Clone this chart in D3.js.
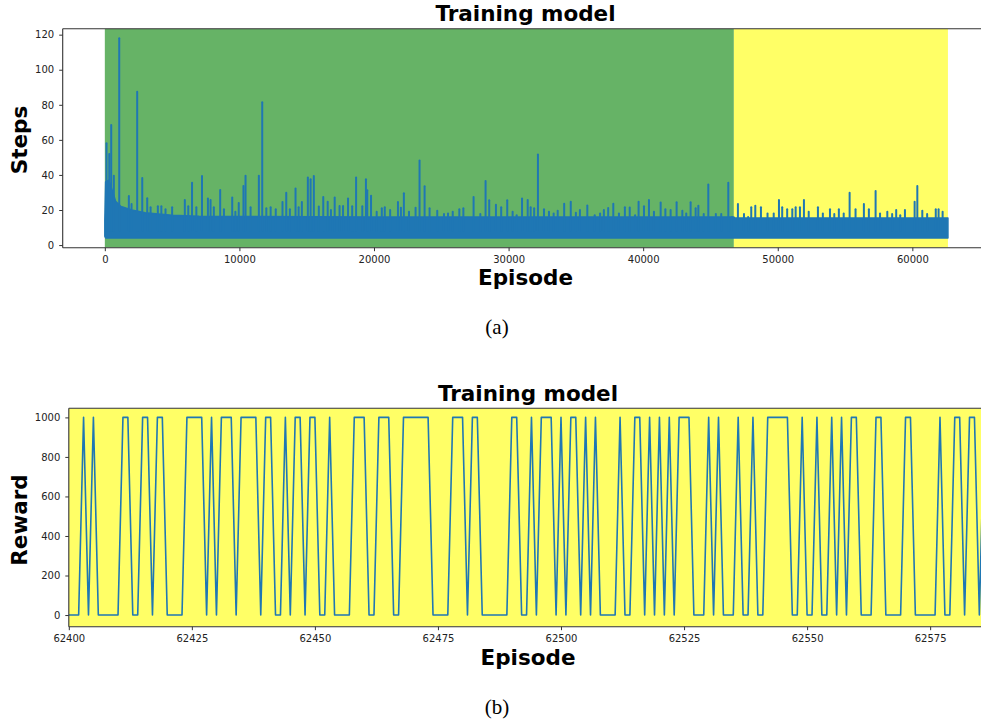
<!DOCTYPE html>
<html>
<head>
<meta charset="utf-8">
<script src="https://cdn.jsdelivr.net/npm/d3@7"></script>
<style>
  body { margin: 0; background: #fff; }
  svg { display: block; }
  text { font-family: "DejaVu Sans", sans-serif; }
</style>
</head>
<body>
<svg id="fig" width="981" height="724"></svg>
<script>
// ---------- Panel (a): steps per episode over the whole training run ----------
const phaseStarts = [0, 46740];
const phaseEnds = [46740, 62645];
const phaseColors = ["#66b366", "#ffff66"];

// Envelope of the dense steps trace (episode, lower and upper edge)
const bandEpisodes = [0, 60, 300, 600, 800, 1200, 2000, 3000, 5000, 7000, 20000, 46740, 46800, 62645];
const bandLow =      [5, 4, 4, 4, 4, 4, 4, 4, 4, 4, 4, 4, 4, 4];
const bandHigh =     [14, 36, 37, 30, 25, 22, 20, 18.5, 17, 16.5, 16, 16, 15.5, 15.5];

// Individual episodes that took noticeably more steps
const spikeEpisodes = [126, 330, 475, 670, 1070, 1785, 1985, 2405, 2780, 3150, 3400, 3940, 4200, 4510, 5000, 5945, 6200, 6480, 6800, 7220, 7660, 7855, 8100, 8570, 8850, 9465, 9700, 9950, 10300, 10455, 10830, 11445, 11695, 12000, 12320, 12700, 13200, 13480, 13750, 14170, 14400, 14640, 15085, 15290, 15530, 15900, 16230, 16560, 16800, 17080, 17440, 17700, 18070, 18380, 18670, 19130, 19400, 19500, 19780, 20200, 20580, 20800, 21200, 21780, 22000, 22220, 22600, 23090, 23385, 23760, 24130, 24700, 25200, 25500, 25850, 26340, 26640, 27400, 27900, 28290, 28560, 29060, 29450, 29900, 30300, 30600, 31000, 31420, 31640, 31900, 32180, 32630, 33000, 33350, 33650, 34130, 34620, 35000, 35300, 35850, 36400, 36800, 37080, 37400, 37780, 38200, 38640, 39000, 39400, 39660, 40060, 40430, 40800, 41300, 41650, 42040, 42485, 42910, 43200, 43525, 43900, 44100, 44500, 44840, 45400, 45800, 46325, 46600, 47040, 47490, 47800, 48030, 48330, 48750, 49240, 49700, 50090, 50330, 50700, 51080, 51330, 51650, 51945, 52300, 52985, 53350, 53880, 54200, 54540, 54900, 55340, 55780, 56400, 56770, 57270, 57600, 58140, 58500, 58800, 59100, 59450, 60170, 60370, 60740, 61100, 61740, 61950, 62250];
const spikeSteps = [58, 52, 68.5, 39.5, 118, 28, 23.4, 87.5, 38.2, 26.7, 21.5, 22.2, 22.2, 20.4, 21.5, 25.7, 22.2, 35.6, 21.5, 39.4, 26.6, 25.7, 21.5, 31.4, 20.4, 27.2, 19, 24, 33.7, 39.5, 21.5, 39.5, 81.4, 21, 21.5, 20.4, 24.5, 29.9, 20.4, 32.3, 21.5, 24.5, 38.6, 37.5, 39.4, 22, 27.4, 24.7, 20, 27.2, 22.3, 22.3, 26.5, 22.2, 38.5, 22.2, 37.5, 31.3, 28.1, 19, 21, 21.5, 20, 24.5, 21.3, 29.5, 19, 21.3, 48.3, 33.5, 21, 19.6, 17.7, 18, 19, 20.4, 21, 27.4, 17.7, 36.5, 25.5, 23, 21.5, 25.5, 19, 17, 26.5, 25.7, 21.5, 21, 51.7, 20.4, 19, 18, 19.6, 23.6, 24.7, 18.4, 20, 22.6, 17, 18, 20, 21.1, 23.6, 18, 21.5, 21.4, 17, 24.7, 22.2, 25.7, 19, 24.3, 20.4, 20, 24.4, 19.6, 18, 24.4, 21, 22.4, 17.7, 34.6, 17.7, 17.7, 35.6, 16, 23.4, 17.7, 16, 21.5, 22.4, 21.5, 18, 18, 25.7, 21.5, 20.4, 20.4, 21.5, 21.5, 25.7, 19, 21.5, 18, 20.4, 17.7, 20.4, 18, 29.9, 20.4, 23.4, 20.4, 30.8, 18, 19, 17.7, 20, 17, 20, 24.7, 33.7, 19.6, 17.7, 20.4, 20.4, 19];

const stepsTicks = [0, 20, 40, 60, 80, 100, 120];
const episodeTicksA = [0, 10000, 20000, 30000, 40000, 50000, 60000];

// ---------- Panel (b): reward of the last episodes ----------
const rewardFirstEpisode = 62400;
const rewardValues = [
  0, 0, 0, 1000, 0, 1000, 0, 0, 0, 0,
  0, 1000, 1000, 0, 0, 1000, 1000, 0, 1000, 1000,
  0, 0, 0, 0, 1000, 1000, 1000, 1000, 0, 1000,
  0, 1000, 1000, 1000, 0, 1000, 1000, 1000, 1000, 0,
  1000, 1000, 0, 0, 1000, 0, 1000, 1000, 0, 1000,
  1000, 0, 0, 1000, 0, 0, 0, 0, 1000, 1000,
  1000, 0, 0, 1000, 1000, 1000, 0, 0, 1000, 1000,
  1000, 1000, 1000, 1000, 0, 0, 0, 0, 1000, 1000,
  1000, 0, 1000, 1000, 0, 0, 0, 0, 0, 0,
  1000, 1000, 0, 0, 1000, 0, 1000, 1000, 1000, 0,
  1000, 0, 1000, 1000, 0, 1000, 0, 1000, 0, 0,
  0, 0, 1000, 0, 0, 1000, 1000, 0, 1000, 0,
  1000, 0, 1000, 0, 1000, 1000, 1000, 0, 0, 0,
  1000, 0, 1000, 0, 0, 0, 1000, 0, 0, 1000,
  0, 0, 1000, 1000, 1000, 1000, 1000, 0, 0, 1000,
  0, 0, 1000, 0, 0, 1000, 0, 1000, 0, 1000,
  1000, 0, 0, 0, 1000, 1000, 0, 0, 0, 0,
  1000, 1000, 0, 0, 0, 0, 0, 1000, 0, 0,
  1000, 1000, 0, 1000, 1000, 0, 1000
];
const rewardTicks = [0, 200, 400, 600, 800, 1000];
const episodeTicksB = [62400, 62425, 62450, 62475, 62500, 62525, 62550, 62575];

const lineColor = "#1f77b4";
const spineColor = "#333";
const svg = d3.select("#fig");
svg.append("rect").attr("width", 981).attr("height", 724).attr("fill", "#fff");

function styleAxis(g) {
  g.select(".domain").remove();
  g.selectAll(".tick line").attr("stroke", spineColor).attr("stroke-width", 1);
  g.selectAll(".tick text").attr("fill", "#222").style("font-size", "10px")
    .style("font-family", "'DejaVu Sans', sans-serif");
}

function drawFrame(box) {
  const g = svg.append("g").attr("fill", "none").attr("stroke", spineColor).attr("stroke-width", 1.1);
  g.append("line").attr("x1", box.l).attr("x2", box.l).attr("y1", box.t).attr("y2", box.b);
  g.append("line").attr("x1", box.l).attr("x2", box.r).attr("y1", box.t).attr("y2", box.t);
  g.append("line").attr("x1", box.l).attr("x2", box.r).attr("y1", box.b).attr("y2", box.b);
  g.append("line").attr("x1", box.r).attr("x2", box.r).attr("y1", box.t).attr("y2", box.b);
}

function boldLabel(text, x, y, rotate) {
  const t = svg.append("text").attr("text-anchor", "middle")
    .style("font-size", "21.5px").style("font-weight", "bold").text(text);
  if (rotate) t.attr("transform", `translate(${x},${y}) rotate(-90)`);
  else t.attr("x", x).attr("y", y);
}

// ---------- draw panel (a) ----------
const boxA = { l: 62.7, r: 990, t: 28.7, b: 247.7 };
const xA = d3.scaleLinear().domain([-3130, 65770]).range([boxA.l, boxA.r]);
const yA = d3.scaleLinear().domain([-1.5, 123.4]).range([boxA.b, boxA.t]);

svg.append("clipPath").attr("id", "clipA").append("rect")
  .attr("x", boxA.l).attr("y", boxA.t).attr("width", boxA.r - boxA.l).attr("height", boxA.b - boxA.t);
const plotA = svg.append("g").attr("clip-path", "url(#clipA)");

plotA.selectAll("rect.phase").data(phaseStarts).join("rect")
  .attr("class", "phase")
  .attr("x", d => xA(d))
  .attr("width", (d, i) => xA(phaseEnds[i]) - xA(d))
  .attr("y", boxA.t).attr("height", boxA.b - boxA.t)
  .attr("fill", (d, i) => phaseColors[i]);

const band = bandEpisodes.map((e, i) => ({ e, lo: bandLow[i], hi: bandHigh[i] }));
plotA.append("path").datum(band)
  .attr("fill", lineColor).attr("stroke", lineColor).attr("stroke-width", 1.5)
  .attr("stroke-linejoin", "round")
  .attr("d", d3.area().x(d => xA(d.e)).y0(d => yA(d.lo)).y1(d => yA(d.hi)));

plotA.selectAll("line.spike").data(spikeEpisodes).join("line")
  .attr("class", "spike")
  .attr("x1", d => xA(d)).attr("x2", d => xA(d))
  .attr("y1", yA(8)).attr("y2", (d, i) => yA(spikeSteps[i]))
  .attr("stroke", lineColor).attr("stroke-width", 2).attr("stroke-linecap", "round");

drawFrame(boxA);

svg.append("g").attr("transform", `translate(${boxA.l},0)`)
  .call(d3.axisLeft(yA).tickValues(stepsTicks).tickFormat(d3.format("d")).tickSize(3.5).tickPadding(5))
  .call(styleAxis);
svg.append("g").attr("transform", `translate(0,${boxA.b})`)
  .call(d3.axisBottom(xA).tickValues(episodeTicksA).tickFormat(d3.format("d")).tickSize(3.5).tickPadding(5))
  .call(styleAxis);

boldLabel("Training model", 525.5, 21);
boldLabel("Episode", 525.5, 285);
boldLabel("Steps", 27, 140, true);
svg.append("text").attr("x", 497).attr("y", 334).attr("text-anchor", "middle")
  .style("font-family", "'Liberation Serif', serif").style("font-size", "21px").text("(a)");

// ---------- draw panel (b) ----------
const boxB = { l: 68.8, r: 990, t: 408.3, b: 626.7 };
const xB = d3.scaleLinear().domain([62400, 62400 + (boxB.r - boxB.l) / 4.922]).range([boxB.l, boxB.r]);
const yB = d3.scaleLinear().domain([-59, 1046]).range([boxB.b, boxB.t]);

svg.append("clipPath").attr("id", "clipB").append("rect")
  .attr("x", boxB.l).attr("y", boxB.t).attr("width", boxB.r - boxB.l).attr("height", boxB.b - boxB.t);
const plotB = svg.append("g").attr("clip-path", "url(#clipB)");
plotB.append("rect").attr("x", boxB.l).attr("y", boxB.t)
  .attr("width", boxB.r - boxB.l).attr("height", boxB.b - boxB.t).attr("fill", "#ffff66");

plotB.append("path").datum(rewardValues)
  .attr("fill", "none").attr("stroke", lineColor).attr("stroke-width", 1.6)
  .attr("stroke-linejoin", "round")
  .attr("d", d3.line().x((d, i) => xB(rewardFirstEpisode + i)).y(d => yB(d)));

drawFrame(boxB);

svg.append("g").attr("transform", `translate(${boxB.l},0)`)
  .call(d3.axisLeft(yB).tickValues(rewardTicks).tickFormat(d3.format("d")).tickSize(3.5).tickPadding(5))
  .call(styleAxis);
svg.append("g").attr("transform", `translate(0,${boxB.b})`)
  .call(d3.axisBottom(xB).tickValues(episodeTicksB).tickFormat(d3.format("d")).tickSize(3.5).tickPadding(5))
  .call(styleAxis);

boldLabel("Training model", 528, 401);
boldLabel("Episode", 528, 665);
boldLabel("Reward", 27, 520, true);
svg.append("text").attr("x", 497).attr("y", 714).attr("text-anchor", "middle")
  .style("font-family", "'Liberation Serif', serif").style("font-size", "21px").text("(b)");
</script>
</body>
</html>
